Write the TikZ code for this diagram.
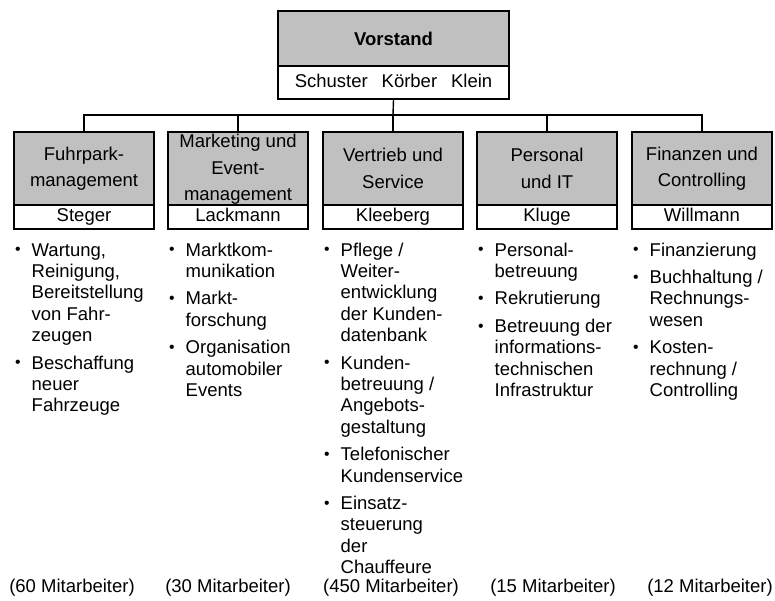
\documentclass[tikz,border=0pt]{standalone}
\usepackage{fontspec}
\usepackage{graphicx}
\setmainfont{Liberation Sans}
\definecolor{boxgray}{RGB}{192,192,192}
\newcommand\fs{\fontsize{18.5}{21.4}\selectfont}
\newcommand\fh{\fontsize{18.5}{26.5}\selectfont}
\newcommand\bl{\raisebox{1.2pt}{\scalebox{0.85}{\textbullet}}}
\newenvironment{blist}{\fs\begin{tabular}[t]{@{}p{16.5pt}@{}l@{}}}{\end{tabular}}
\begin{document}
\begin{tikzpicture}[x=1pt,y=-1pt,
  hd/.style={draw, line width=1.4pt, fill=boxgray, minimum width=140pt, minimum height=73pt, inner sep=0pt, align=center, font=\fh},
  nm/.style={draw, line width=1.4pt, fill=white, minimum width=140pt, minimum height=24pt, inner sep=0pt, text height=13pt, text depth=4pt, font=\fs},
  lst/.style={anchor=north west, inner sep=0pt},
  cnt/.style={inner sep=0pt, font=\fs},
  conn/.style={line width=1.4pt}]
\useasboundingbox (0,0) rectangle (775,600);

% Vorstand
\node[draw, line width=1.4pt, fill=boxgray, minimum width=231pt, minimum height=55pt, inner sep=0pt, font=\fs\bfseries] (vs) at (393.5,38.5) {Vorstand};
\node[draw, line width=1.4pt, fill=white, minimum width=231pt, minimum height=33pt, inner sep=0pt, text height=13pt, text depth=4pt, font=\fs] (vn) at (393.5,82.5) {Schuster\hspace{0.75em}Körber\hspace{0.75em}Klein};

% Department boxes
\node[hd] (h1) at (84,168.5) {\fontsize{18.5}{30}\selectfont Fuhrpark-\\management};
\node[hd] (h2) at (238,168.5) {\fontsize{18.5}{25.5}\selectfont\rule{0pt}{15pt}Marketing und\\Event-\\management};
\node[hd] (h3) at (393,168.5) {Vertrieb und\\Service};
\node[hd] (h4) at (547,168.5) {Personal\\und IT};
\node[hd] (h5) at (702,168.5) {Finanzen und\\Controlling};

\node[nm] (n1) at (84,217) {Steger};
\node[nm] (n2) at (238,217) {Lackmann};
\node[nm] (n3) at (393,217) {Kleeberg};
\node[nm] (n4) at (547,217) {Kluge};
\node[nm] (n5) at (702,217) {Willmann};

% connectors
\coordinate (bus) at (393,115);
\draw[conn] (vn.south) -- (bus);
\draw[conn] (h1.north) -- (h1.north |- bus) -- (h5.north |- bus) -- (h5.north);
\draw[conn] (h2.north) -- (h2.north |- bus);
\draw[conn] (h3.north) -- (h3.north |- bus);
\draw[conn] (h4.north) -- (h4.north |- bus);

% task lists
\node[lst] (l1) at (15,241) {\begin{blist}
\bl & Wartung,\\
 & Reinigung,\\
 & Bereitstellung\\
 & von Fahr-\\
 & zeugen\\[6pt]
\bl & Beschaffung\\
 & neuer\\
 & Fahrzeuge
\end{blist}};
\node[lst] (l2) at (169,241) {\begin{blist}
\bl & Marktkom-\\
 & munikation\\[6pt]
\bl & Markt-\\
 & forschung\\[6pt]
\bl & Organisation\\
 & automobiler\\
 & Events
\end{blist}};
\node[lst] (l3) at (324,241) {\begin{blist}
\bl & Pflege /\\
 & Weiter-\\
 & entwicklung\\
 & der Kunden-\\
 & datenbank\\[6pt]
\bl & Kunden-\\
 & betreuung /\\
 & Angebots-\\
 & gestaltung\\[6pt]
\bl & Telefonischer\\
 & Kundenservice\\[6pt]
\bl & Einsatz-\\
 & steuerung\\
 & der\\
 & Chauffeure
\end{blist}};
\node[lst] (l4) at (478,241) {\begin{blist}
\bl & Personal-\\
 & betreuung\\[6pt]
\bl & Rekrutierung\\[6pt]
\bl & Betreuung der\\
 & informations-\\
 & technischen\\
 & Infrastruktur
\end{blist}};
\node[lst] (l5) at (633,241) {\begin{blist}
\bl & Finanzierung\\[6pt]
\bl & Buchhaltung /\\
 & Rechnungs-\\
 & wesen\\[6pt]
\bl & Kosten-\\
 & rechnung /\\
 & Controlling
\end{blist}};

% staff counts
\node[cnt] (c1) at (72,588) {(60 Mitarbeiter)};
\node[cnt] (c2) at (228,588) {(30 Mitarbeiter)};
\node[cnt] (c3) at (391,588) {(450 Mitarbeiter)};
\node[cnt] (c4) at (553,588) {(15 Mitarbeiter)};
\node[cnt] (c5) at (710,588) {(12 Mitarbeiter)};
\end{tikzpicture}
\end{document}
